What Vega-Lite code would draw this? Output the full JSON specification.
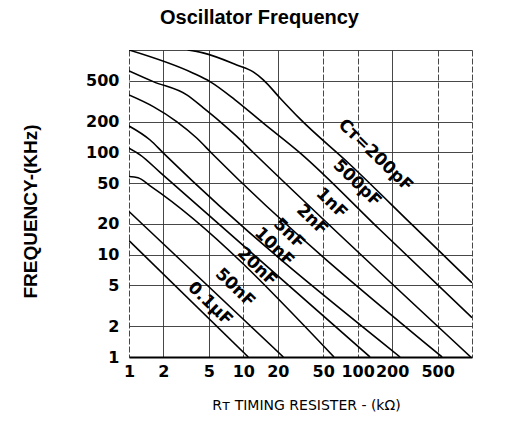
{
  "$schema": "https://vega.github.io/schema/vega-lite/v6.json",
  "width": 343,
  "height": 307,
  "autosize": {"type": "none"},
  "padding": {"left": 129, "top": 50, "right": 38, "bottom": 81},
  "background": "white",
  "title": {
    "text": "Oscillator Frequency",
    "font": "Liberation Sans",
    "fontSize": 20,
    "fontWeight": "bold",
    "color": "black",
    "anchor": "middle",
    "frame": "group",
    "dx": -41,
    "offset": 14
  },
  "config": {
    "view": {"stroke": null},
    "axis": {
      "grid": true,
      "gridColor": "#333333",
      "gridWidth": 0.9,
      "ticks": false,
      "labelFont": "DejaVu Sans",
      "labelFontWeight": "bold",
      "labelFontSize": 16,
      "labelColor": "black",
      "labelOverlap": false,
      "labelFlush": false,
      "titleColor": "black"
    }
  },
  "datasets": {
    "curves": [
      {"c": "200pF", "r": 3.26, "f": 1000},
      {"c": "200pF", "r": 4.44, "f": 937},
      {"c": "200pF", "r": 8.75, "f": 715},
      {"c": "200pF", "r": 12.2, "f": 611},
      {"c": "200pF", "r": 14.95, "f": 511},
      {"c": "200pF", "r": 20.9, "f": 340},
      {"c": "200pF", "r": 31.3, "f": 212},
      {"c": "200pF", "r": 85.7, "f": 76},
      {"c": "200pF", "r": 305, "f": 19.2},
      {"c": "200pF", "r": 1000, "f": 5.32},
      {"c": "500pF", "r": 1, "f": 1000},
      {"c": "500pF", "r": 3.65, "f": 593},
      {"c": "500pF", "r": 5.11, "f": 491},
      {"c": "500pF", "r": 8.46, "f": 326},
      {"c": "500pF", "r": 14.95, "f": 193},
      {"c": "500pF", "r": 31.3, "f": 98.9},
      {"c": "500pF", "r": 156.8, "f": 17.5},
      {"c": "500pF", "r": 1000, "f": 2.42},
      {"c": "1nF", "r": 1, "f": 625},
      {"c": "1nF", "r": 1.63, "f": 491},
      {"c": "1nF", "r": 3.2, "f": 364},
      {"c": "1nF", "r": 4.47, "f": 272},
      {"c": "1nF", "r": 6.25, "f": 200},
      {"c": "1nF", "r": 8.75, "f": 143},
      {"c": "1nF", "r": 11.84, "f": 103},
      {"c": "1nF", "r": 975, "f": 1},
      {"c": "2nF", "r": 1, "f": 364},
      {"c": "2nF", "r": 1.63, "f": 280},
      {"c": "2nF", "r": 2.61, "f": 200},
      {"c": "2nF", "r": 3.91, "f": 138},
      {"c": "2nF", "r": 5.29, "f": 98},
      {"c": "2nF", "r": 547, "f": 1},
      {"c": "5nF", "r": 1, "f": 181},
      {"c": "5nF", "r": 1.53, "f": 132},
      {"c": "5nF", "r": 2.0, "f": 98.2},
      {"c": "5nF", "r": 235, "f": 1},
      {"c": "10nF", "r": 1, "f": 110},
      {"c": "10nF", "r": 1.25, "f": 94.5},
      {"c": "10nF", "r": 1.87, "f": 63.8},
      {"c": "10nF", "r": 128.2, "f": 1},
      {"c": "20nF", "r": 1, "f": 58},
      {"c": "20nF", "r": 1.2, "f": 56.4},
      {"c": "20nF", "r": 1.53, "f": 47.1},
      {"c": "20nF", "r": 62.1, "f": 1},
      {"c": "50nF", "r": 1, "f": 26.4},
      {"c": "50nF", "r": 22.4, "f": 1},
      {"c": "0.1uF", "r": 1, "f": 13.7},
      {"c": "0.1uF", "r": 11.05, "f": 1}
    ],
    "labels": [
      {"t": "Cᴛ=200pF", "r": 143, "f": 93.5},
      {"t": "500pF", "r": 98.7, "f": 49.8},
      {"t": "1nF", "r": 59, "f": 31.8},
      {"t": "2nF", "r": 39.9, "f": 21.9},
      {"t": "5nF", "r": 25.1, "f": 16},
      {"t": "10nF", "r": 18.6, "f": 11.9},
      {"t": "20nF", "r": 13.2, "f": 7.6},
      {"t": "50nF", "r": 8.46, "f": 4.75},
      {"t": "0.1μF", "r": 5.11, "f": 3.31}
    ]
  },
  "layer": [
    {
      "data": {"name": "curves"},
      "mark": {"type": "line", "color": "black", "strokeWidth": 1.6, "interpolate": "monotone", "clip": true},
      "encoding": {
        "x": {
          "field": "r",
          "type": "quantitative",
          "scale": {"type": "log", "domain": [1, 1000]},
          "axis": {
            "values": [1, 2, 5, 10, 20, 50, 100, 200, 500, 1000],
            "labelExpr": "datum.value >= 1000 ? '' : format(datum.value, 'd')",
            "gridDash": {"condition": {"test": "datum.value == 1 || datum.value == 10 || datum.value == 50 || datum.value == 100 || datum.value == 500 || datum.value == 1000", "value": [6, 2]}, "value": []},
            "title": "Rᴛ TIMING RESISTER - (kΩ)",
            "titleFont": "DejaVu Sans",
            "titleFontSize": 14,
            "titleFontWeight": "normal",
            "titleX": 177,
            "titleY": 48,
            "titleBaseline": "middle",
            "labelPadding": 6,
            "domainColor": "black",
            "domainWidth": 2
          }
        },
        "y": {
          "field": "f",
          "type": "quantitative",
          "scale": {"type": "log", "domain": [1, 1000]},
          "axis": {
            "values": [1, 2, 5, 10, 20, 50, 100, 200, 500, 1000],
            "labelExpr": "datum.value >= 1000 ? '' : format(datum.value, 'd')",
            "title": "FREQUENCY-(KHz)",
            "titleFont": "Liberation Sans",
            "titleFontSize": 19,
            "titleFontWeight": "bold",
            "titleX": -99,
            "titleY": 161,
            "titleBaseline": "middle",
            "labelPadding": 10,
            "domain": false
          }
        },
        "detail": {"field": "c"}
      }
    },
    {
      "data": {"name": "labels"},
      "mark": {"type": "text", "angle": 44, "font": "DejaVu Sans", "fontWeight": "bold", "fontSize": 17, "align": "center", "baseline": "middle", "color": "black"},
      "encoding": {
        "x": {"field": "r", "type": "quantitative"},
        "y": {"field": "f", "type": "quantitative"},
        "text": {"field": "t"}
      }
    }
  ]
}
